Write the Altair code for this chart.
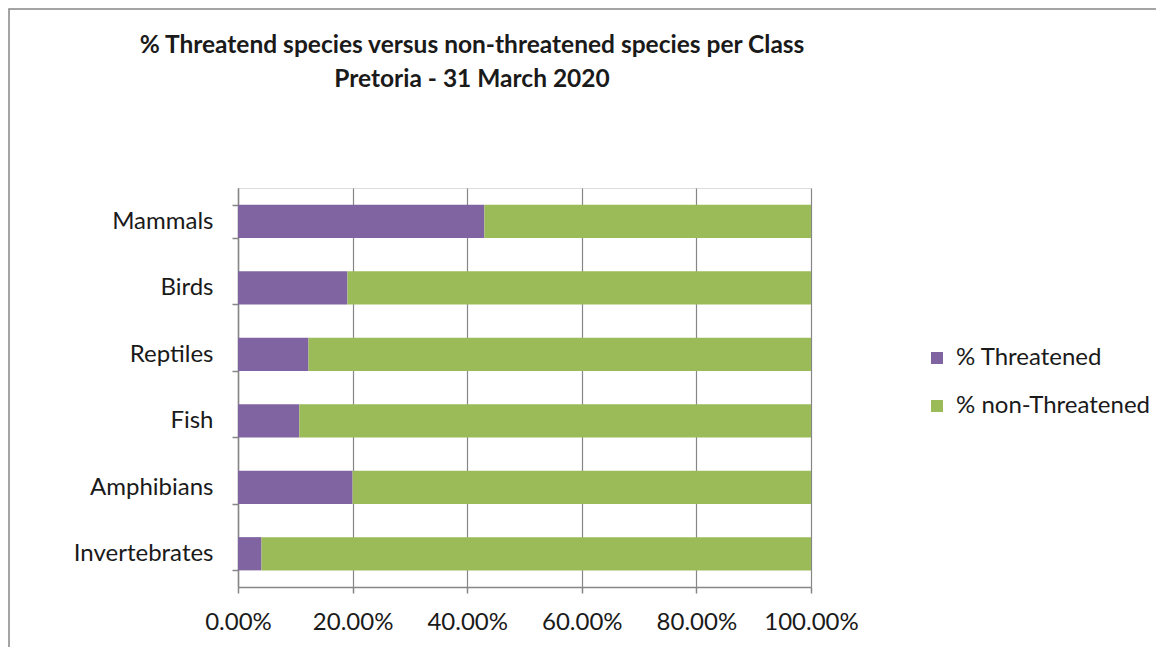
import altair as alt
import pandas as pd

classes = ["Mammals", "Birds", "Reptiles", "Fish", "Amphibians", "Invertebrates"]
threatened = [0.430, 0.191, 0.123, 0.107, 0.200, 0.041]
non_threatened = [0.570, 0.809, 0.877, 0.893, 0.800, 0.959]
series = ["% Threatened", "% non-Threatened"]
colors = ["#8064A2", "#9BBB59"]
x_ticks = [0, 0.2, 0.4, 0.6, 0.8, 1.0]
title_lines = ["% Threatend species versus non-threatened species per Class",
               "Pretoria - 31 March 2020"]

rows = []
for c, t, n in zip(classes, threatened, non_threatened):
    rows.append({"cls": c, "series": series[0], "value": t, "ord": 0})
    rows.append({"cls": c, "series": series[1], "value": n, "ord": 1})
df = pd.DataFrame(rows)

FONT = "Lato"
GRAY = "#868686"
TXT = "#1a1a1a"

bars = alt.Chart(df).mark_bar().encode(
    y=alt.Y("cls:N", sort=classes, title=None,
            scale=alt.Scale(paddingInner=0.5, paddingOuter=0.25),
            axis=alt.Axis(tickBand="extent", tickSize=6, tickColor=GRAY, tickWidth=1.5,
                          domainColor=GRAY, domainWidth=1.5, labelPadding=19,
                          labelFont=FONT, labelFontSize=24, labelColor=TXT)),
    x=alt.X("value:Q", stack="zero", title=None,
            scale=alt.Scale(domain=[0, 1], nice=False),
            axis=alt.Axis(values=x_ticks, format=".2%", grid=True, gridColor=GRAY,
                          gridWidth=1.2, tickSize=6, tickColor=GRAY, tickWidth=1.5,
                          domainColor=GRAY, domainWidth=1.5, labelPadding=17,
                          labelFont=FONT, labelFontSize=24, labelColor=TXT,
                          labelFlush=False)),
    color=alt.Color("series:N", scale=alt.Scale(domain=series, range=colors),
                    legend=alt.Legend(orient="none", legendX=687, legendY=158, title=None,
                                      symbolType="square", symbolSize=144,
                                      symbolStrokeWidth=0, labelFont=FONT,
                                      labelFontSize=24, labelColor=TXT, labelLimit=400,
                                      labelOffset=7, rowPadding=24, padding=0)),
    order=alt.Order("ord:Q"),
)

frame = alt.Chart(pd.DataFrame({"f": [0]})).mark_rect(
    fill="transparent", stroke=GRAY, strokeWidth=1.5
).encode(x=alt.value(-229), x2=alt.value(945), y=alt.value(-179), y2=alt.value(480))

title1 = alt.Chart(pd.DataFrame({"t": [title_lines[0]]})).mark_text(
    font=FONT, fontSize=24.5, fontWeight="bold", color=TXT, align="center",
    baseline="alphabetic"
).encode(text="t:N", x=alt.value(234), y=alt.value(-135))

title2 = alt.Chart(pd.DataFrame({"t": [title_lines[1]]})).mark_text(
    font=FONT, fontSize=24.5, fontWeight="bold", color=TXT, align="center",
    baseline="alphabetic"
).encode(text="t:N", x=alt.value(234), y=alt.value(-101))

chart = alt.layer(frame, bars, title1, title2).properties(
    width=573, height=399,
    padding={"left": 230, "top": 180, "right": 345, "bottom": 60},
    autosize=alt.AutoSizeParams(type="none"),
).configure_view(stroke=None).configure(background="white")

chart.save("out.html", embed_options={"renderer": "svg", "actions": False})
